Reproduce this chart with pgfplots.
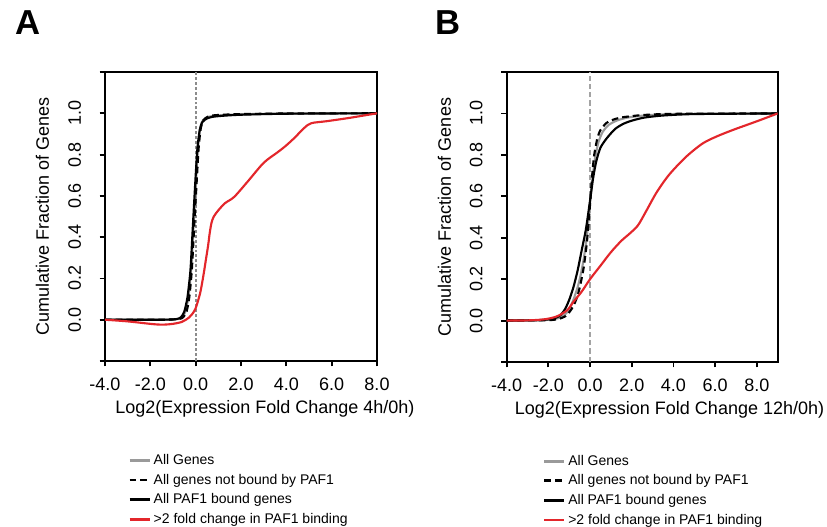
\documentclass[border=0pt]{standalone}
\usepackage{fontspec}
\setmainfont{Liberation Sans}
\usepackage{pgfplots}
\pgfplotsset{compat=1.18}

\definecolor{allgenes}{HTML}{9A9A9A}
\definecolor{paf}{HTML}{E3262B}
\definecolor{zeroline}{HTML}{8C8C8C}

\pgfplotsset{
  cdf/.style={
    scale only axis,
    ymin=-0.2, ymax=1.2,
    ytick={-0.2,0,0.2,0.4,0.6,0.8,1,1.2},
    yticklabels={{},0.0,0.2,0.4,0.6,0.8,1.0,{}},
    xtick={-4,-2,0,2,4,6,8},
    xticklabels={-4.0,-2.0,0.0,2.0,4.0,6.0,8.0},
    tick align=outside, xtick pos=bottom, ytick pos=left,
    major tick length=4pt,
    axis line style={line width=1.4pt},
    every tick/.style={black, line width=1.4pt},
    tick label style={font=\fontsize{13.5}{16}\selectfont},
    label style={font=\fontsize{13.5}{16}\selectfont},
    xticklabel style={yshift=-5.2pt},
    yticklabel style={rotate=90, anchor=south, inner xsep=0pt, inner ysep=13.8pt},
    ylabel={Cumulative Fraction of Genes},
    ylabel style={at={(axis description cs:-0.23,0.5)}, anchor=center},
    legend cell align=left,
    legend style={draw=none, fill=none, anchor=north west,
      font=\fontsize{10.5}{12}\selectfont, row sep=1.6pt, inner sep=0pt},
    legend image code/.code={\draw[#1, line width=2pt] (0pt,0pt) -- (15pt,0pt);},
  },
  allg/.style={allgenes, line width=1.6pt, smooth, tension=0.4},
  notb/.style={black, line width=1.6pt, dash pattern=on 5pt off 3pt, smooth, tension=0.4},
  bnd/.style={black, line width=1.6pt, smooth, tension=0.4},
  fold/.style={paf, line width=1.6pt, smooth, tension=0.5},
}

\begin{document}
\begin{tikzpicture}
\path[use as bounding box] (0,0) rectangle (620.25pt,394.5pt);

\node[anchor=base west, font=\fontsize{26}{30}\selectfont\bfseries, inner sep=0pt] at (11.25pt,368.25pt) {A};
\node[anchor=base west, font=\fontsize{26}{30}\selectfont\bfseries, inner sep=0pt] at (326.25pt,368.25pt) {B};

% panel A
\begin{axis}[cdf, at={(78.75pt,123.75pt)}, anchor=south west,
  width=204pt, height=216.75pt, xmin=-4, xmax=8,
  xlabel={Log2(Expression Fold Change 4h/0h)},
  xlabel style={at={(axis description cs:0.588,-0.165)}, anchor=center},
  legend style={at={(axis description cs:0.085,-0.313)}}]
\addplot[zeroline, line width=1.5pt, dash pattern=on 2.2pt off 1.5pt, forget plot] coordinates {(0,-0.2) (0,1.2)};
\addplot[allg] coordinates {(-4,0) (-1.5,0) (-0.8,0.003) (-0.6,0.012) (-0.45,0.04) (-0.32,0.11) (-0.2,0.24) (-0.1,0.44) (0,0.64) (0.1,0.83) (0.2,0.93) (0.32,0.965) (0.5,0.98) (0.75,0.987) (1.2,0.991) (2,0.995) (4,0.999) (8,1)};
\addlegendentry{All Genes}
\addplot[notb] coordinates {(-4,0) (-1.5,0) (-0.75,0.003) (-0.55,0.012) (-0.4,0.04) (-0.28,0.11) (-0.17,0.24) (-0.07,0.44) (0.03,0.64) (0.13,0.83) (0.23,0.93) (0.35,0.968) (0.55,0.984) (0.8,0.99) (1.2,0.993) (2,0.996) (4,0.999) (8,1)};
\addlegendentry{All genes not bound by PAF1}
\addplot[bnd] coordinates {(-4,0) (-1.5,0) (-0.85,0.003) (-0.65,0.012) (-0.5,0.04) (-0.36,0.11) (-0.23,0.24) (-0.13,0.44) (-0.03,0.64) (0.07,0.82) (0.18,0.92) (0.3,0.958) (0.5,0.975) (0.75,0.983) (1.2,0.988) (2,0.993) (4,0.998) (8,1)};
\addlegendentry{All PAF1 bound genes}
\addplot[fold] coordinates {(-4,0) (-3,-0.008) (-2,-0.02) (-1.5,-0.024) (-1,-0.02) (-0.6,-0.01) (-0.3,0.01) (-0.1,0.035) (0,0.055) (0.2,0.13) (0.35,0.22) (0.45,0.29) (0.55,0.36) (0.62,0.42) (0.7,0.47) (0.8,0.5) (1.0,0.53) (1.3,0.565) (1.7,0.595) (2.3,0.67) (3,0.76) (3.6,0.81) (3.95,0.84) (4.35,0.88) (4.8,0.93) (5.1,0.952) (5.8,0.962) (6.8,0.978) (8,1.0)};
\addlegendentry{>2 fold change in PAF1 binding}
\end{axis}

% panel B
\begin{axis}[cdf, at={(380pt,123pt)}, anchor=south west,
  width=203.25pt, height=217.5pt, xmin=-4, xmax=9,
  xlabel={Log2(Expression Fold Change 12h/0h)},
  xlabel style={at={(axis description cs:0.601,-0.165)}, anchor=center},
  legend style={at={(axis description cs:0.133,-0.311)}}]
\addplot[zeroline!80, line width=1.5pt, dash pattern=on 4pt off 2.2pt, forget plot] coordinates {(0,-0.2) (0,1.2)};
\addplot[allg] coordinates {(-4,0) (-2.5,0.001) (-2,0.004) (-1.5,0.012) (-1.2,0.03) (-1.0,0.055) (-0.8,0.1) (-0.6,0.16) (-0.45,0.22) (-0.3,0.3) (-0.15,0.41) (0,0.57) (0.12,0.69) (0.25,0.79) (0.4,0.86) (0.6,0.91) (0.9,0.945) (1.3,0.966) (1.8,0.98) (2.6,0.99) (4,0.997) (9,1)};
\addlegendentry{All Genes}
\addplot[notb] coordinates {(-4,0) (-2,0.002) (-1.5,0.008) (-1.2,0.02) (-1.0,0.04) (-0.8,0.07) (-0.6,0.12) (-0.45,0.18) (-0.3,0.26) (-0.15,0.38) (0,0.56) (0.1,0.7) (0.2,0.8) (0.35,0.88) (0.5,0.92) (0.8,0.955) (1.2,0.973) (1.6,0.982) (2.5,0.992) (4,0.998) (9,1)};
\addlegendentry{All genes not bound by PAF1}
\addplot[bnd] coordinates {(-4,0) (-2.5,0.002) (-2,0.006) (-1.6,0.015) (-1.4,0.028) (-1.2,0.055) (-1.0,0.1) (-0.8,0.16) (-0.6,0.24) (-0.4,0.34) (-0.2,0.44) (0,0.58) (0.15,0.69) (0.3,0.77) (0.5,0.835) (0.8,0.88) (1.2,0.925) (1.6,0.95) (2,0.965) (2.6,0.98) (3.5,0.99) (5,0.997) (9,1)};
\addlegendentry{All PAF1 bound genes}
\addplot[fold] coordinates {(-4,0) (-3,0.001) (-2.2,0.006) (-1.6,0.02) (-1.1,0.05) (-0.8,0.09) (-0.4,0.14) (0,0.2) (0.5,0.265) (1,0.33) (1.5,0.385) (1.9,0.42) (2.3,0.46) (2.7,0.53) (3.2,0.62) (3.8,0.705) (4.6,0.79) (5.4,0.855) (6.1,0.89) (6.9,0.922) (8,0.962) (9,1.0)};
\addlegendentry{>2 fold change in PAF1 binding}
\end{axis}
\end{tikzpicture}
\end{document}
